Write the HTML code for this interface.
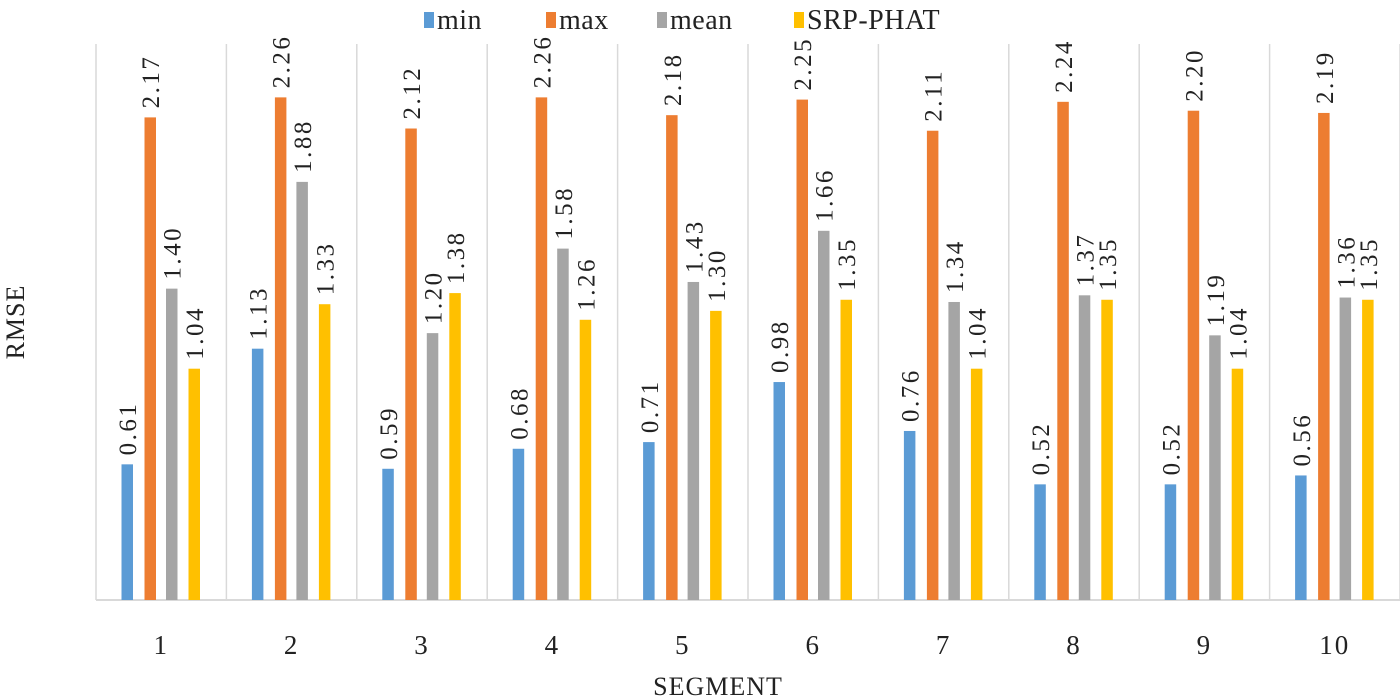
<!DOCTYPE html>
<html><head><meta charset="utf-8"><style>
body{margin:0;background:#fff}
svg{display:block;font-family:"Liberation Serif",serif}
</style></head><body>
<svg id="chart" width="1400" height="700" xmlns="http://www.w3.org/2000/svg"></svg>
<script>
const categories=["1","2","3","4","5","6","7","8","9","10"];
const minVals=[0.61,1.13,0.59,0.68,0.71,0.98,0.76,0.52,0.52,0.56];
const maxVals=[2.17,2.26,2.12,2.26,2.18,2.25,2.11,2.24,2.20,2.19];
const meanVals=[1.40,1.88,1.20,1.58,1.43,1.66,1.34,1.37,1.19,1.36];
const srpVals=[1.04,1.33,1.38,1.26,1.30,1.35,1.04,1.35,1.04,1.35];
const seriesNames=["min","max","mean","SRP-PHAT"];
const colors=["#5b9bd5","#ed7d31","#a5a5a5","#ffc000"];
const series=[minVals,maxVals,meanVals,srpVals];

const svg=document.getElementById('chart');
const NS="http://www.w3.org/2000/svg";
const X0=96,X1=1400,Y0=600,TOP=44,YMAX=2.5;
const cw=(X1-X0)/categories.length;
const y=v=>Y0-v/YMAX*(Y0-TOP);
const barOff=[25.5,48.5,70,92.5],bw=11.5;
function mk(t,a){const e=document.createElementNS(NS,t);for(const k in a)e.setAttribute(k,a[k]);svg.appendChild(e);return e;}
for(let i=0;i<=categories.length;i++){
  const g=mk('line',{x1:X0+i*cw,x2:X0+i*cw,y1:TOP,y2:Y0,stroke:'#d9d9d9','stroke-width':1.5});
  
  
}
const ax=mk('line',{x1:X0,x2:X1,y1:Y0,y2:Y0,stroke:'#d9d9d9','stroke-width':2});


categories.forEach((c,i)=>{
  const t=mk('text',{x:X0+i*cw+cw/2,y:654,'text-anchor':'middle','font-size':27,'letter-spacing':2,fill:'#222'});
  t.textContent=c;
  
  
  series.forEach((s,j)=>{
    const bx=X0+i*cw+barOff[j];
    const r=mk('rect',{x:bx,y:y(s[i]),width:bw,height:Y0-y(s[i]),fill:colors[j]});
    
    
    const cx=bx+bw/2+9,cy=y(s[i])-9;
    const l=mk('text',{x:cx,y:cy,'font-size':25,'letter-spacing':2.5,fill:'#222',transform:`rotate(-90 ${cx} ${cy})`});
    l.textContent=s[i].toFixed(2);
    
    
  });
});
const legX=[424,546,657,794];
seriesNames.forEach((n,j)=>{
  const r=mk('rect',{x:legX[j],y:12,width:10,height:16,fill:colors[j]});
  
  
  const t=mk('text',{x:legX[j]+13,y:29,'font-size':28,'letter-spacing':0.5,fill:'#222'});
  t.textContent=n;
  
  
});
const xt=mk('text',{x:718,y:695,'text-anchor':'middle','font-size':26,'letter-spacing':1,fill:'#222'});
xt.textContent='SEGMENT';


const yt=mk('text',{x:24,y:322,'text-anchor':'middle','font-size':26,'letter-spacing':1,fill:'#222',transform:'rotate(-90 24 322)'});
yt.textContent='RMSE';


</script>
</body></html>
